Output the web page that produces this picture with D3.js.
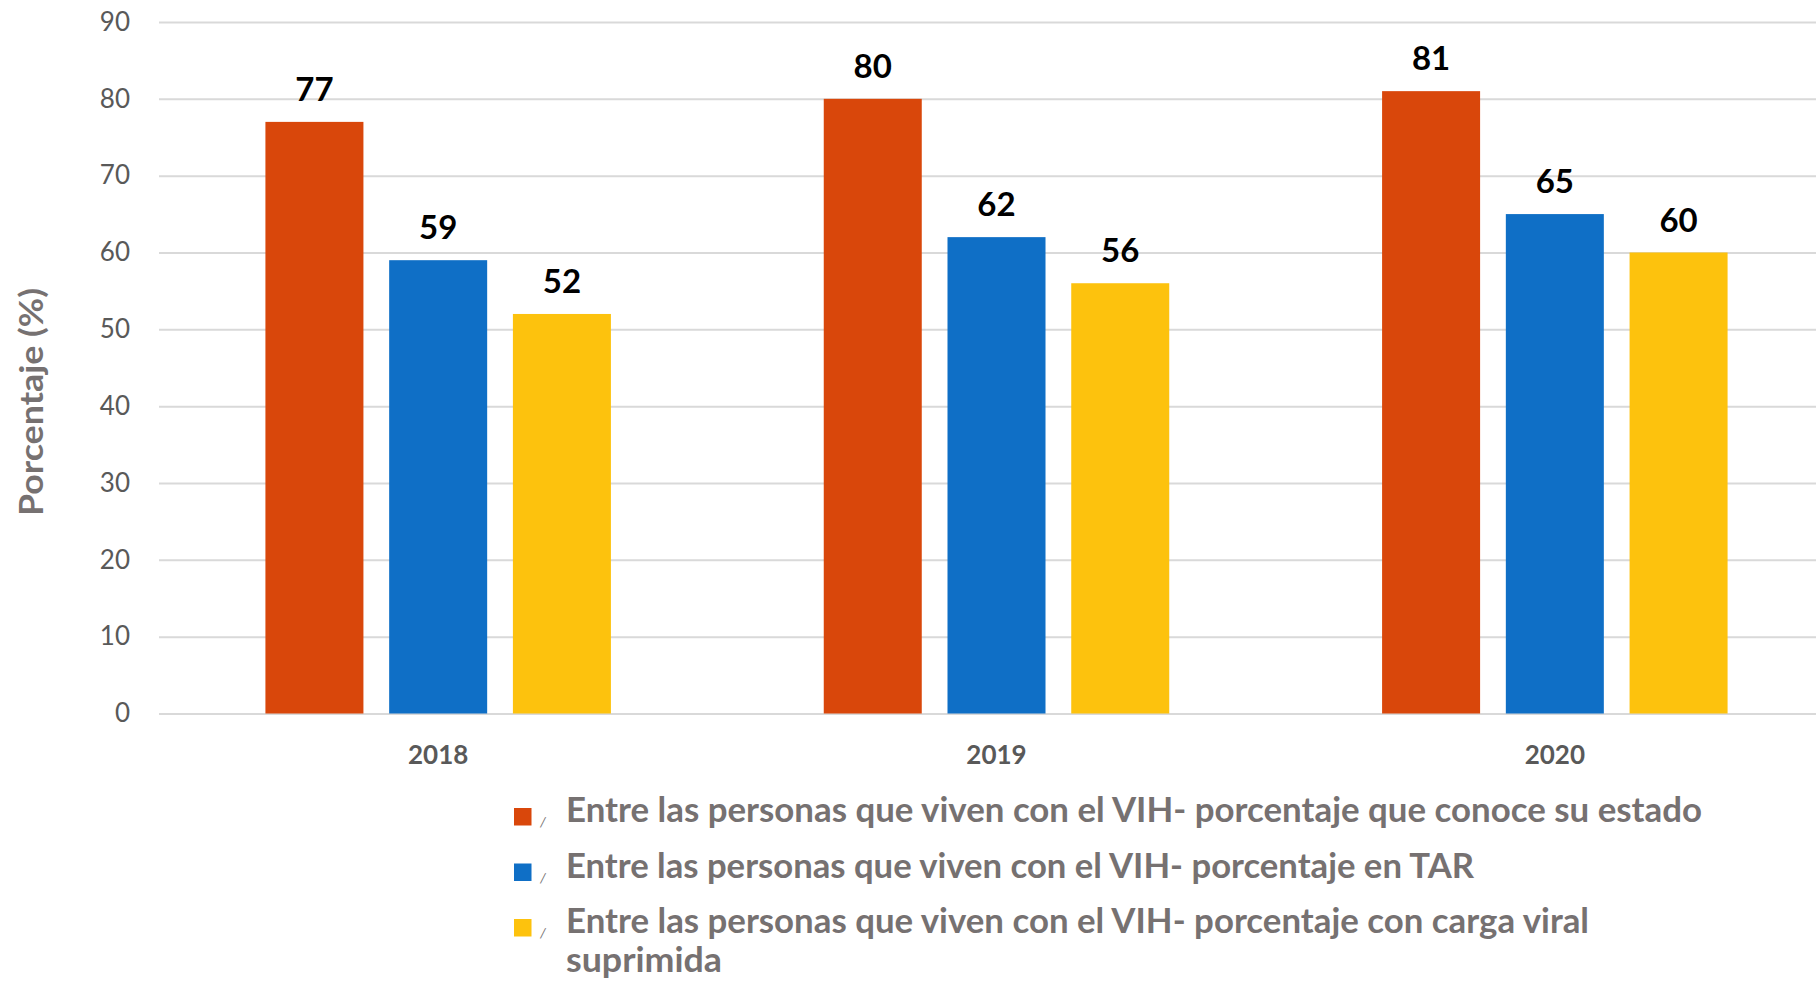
<!DOCTYPE html>
<html>
<head>
<meta charset="utf-8">
<script src="https://cdn.jsdelivr.net/npm/d3@7"></script>
<style>
  body { margin: 0; background: #fff; }
  svg { display: block; font-family: Lato, "Open Sans", sans-serif; }
</style>
</head>
<body>
<svg id="chart" width="1816" height="983"></svg>
<script>
const years = ["2018", "2019", "2020"];
const conoceEstado = [77, 80, 81];
const enTar = [59, 62, 65];
const cargaSuprimida = [52, 56, 60];
const yTicks = [0, 10, 20, 30, 40, 50, 60, 70, 80, 90];
const seriesColors = ["#d9470b", "#0f6fc6", "#fdc20d"];
const legendLabels = [
    ["Entre las personas que viven con el VIH- porcentaje que conoce su estado"],
    ["Entre las personas que viven con el VIH- porcentaje en TAR"],
    ["Entre las personas que viven con el VIH- porcentaje con carga viral", "suprimida"]
];
const yTitle = "Porcentaje (%)";

const allSeries = [conoceEstado, enTar, cargaSuprimida];

const svg = d3.select("#chart");

const x0 = d3.scaleBand()
    .domain(years)
    .range([159, 1834]);

const x1 = d3.scaleBand()
    .domain(d3.range(allSeries.length))
    .range([0, x0.bandwidth()])
    .paddingInner(0.208)
    .paddingOuter(0.86);

const y = d3.scaleLinear()
    .domain([0, 90])
    .range([713.5, 22]);

// gridlines + tick labels
const yAxis = svg.append("g")
    .attr("transform", "translate(159,0)")
    .call(d3.axisLeft(y)
        .tickValues(yTicks)
        .tickSizeInner(-(1834 - 159))
        .tickSizeOuter(0)
        .tickPadding(29));

yAxis.select(".domain").remove();
yAxis.selectAll(".tick line")
    .attr("stroke", "#d9d9d9")
    .attr("stroke-width", 2);
yAxis.selectAll(".tick text")
    .attr("fill", "#595959")
    .style("font-size", "26px")
    .style("font-family", "Lato, 'Open Sans', sans-serif");

// bars
const groups = svg.append("g")
    .selectAll("g")
    .data(years)
    .enter()
    .append("g")
    .attr("transform", d => `translate(${x0(d)},0)`);

groups.selectAll("rect")
    .data((d, i) => allSeries.map((s, k) => ({ k: k, v: s[i] })))
    .enter()
    .append("rect")
    .attr("x", d => x1(d.k))
    .attr("width", x1.bandwidth())
    .attr("y", d => y(d.v))
    .attr("height", d => y(0) - y(d.v))
    .attr("fill", d => seriesColors[d.k]);

groups.selectAll("text.val")
    .data((d, i) => allSeries.map((s, k) => ({ k: k, v: s[i] })))
    .enter()
    .append("text")
    .attr("class", "val")
    .attr("x", d => x1(d.k) + x1.bandwidth() / 2)
    .attr("y", d => y(d.v) - 21)
    .attr("text-anchor", "middle")
    .attr("fill", "#000")
    .style("font-size", "33px")
    .style("font-weight", "bold")
    .text(d => d.v);

// category labels
svg.append("g")
    .selectAll("text")
    .data(years)
    .enter()
    .append("text")
    .attr("x", d => x0(d) + x0.bandwidth() / 2)
    .attr("y", 764)
    .attr("text-anchor", "middle")
    .attr("fill", "#595959")
    .style("font-size", "26px")
    .style("font-weight", "bold")
    .text(d => d);

// y axis title
svg.append("text")
    .attr("transform", "translate(43,402) rotate(-90)")
    .attr("text-anchor", "middle")
    .attr("fill", "#767171")
    .attr("textLength", 228)
    .attr("lengthAdjust", "spacingAndGlyphs")
    .style("font-size", "33px")
    .style("font-weight", "bold")
    .text(yTitle);

// legend
const legendTop = 817;
const legendStep = 55.5;
const lineWidths = [[1136], [908], [1023, 156]];

const legend = svg.append("g")
    .selectAll("g")
    .data(legendLabels)
    .enter()
    .append("g")
    .attr("transform", (d, i) => `translate(514,${legendTop + i * legendStep})`);

legend.append("rect")
    .attr("x", 0)
    .attr("y", -9)
    .attr("width", 17.5)
    .attr("height", 17.5)
    .attr("fill", (d, i) => seriesColors[i]);

legend.append("text")
    .attr("x", 26)
    .attr("y", 10)
    .attr("fill", "#767171")
    .style("font-size", "14px")
    .style("font-style", "italic")
    .text("/");

legend.each(function (lines, i) {
    const g = d3.select(this);
    lines.forEach((line, j) => {
        g.append("text")
            .attr("x", 52)
            .attr("y", 5 + j * 38.5)
            .attr("fill", "#767171")
            .attr("textLength", lineWidths[i][j])
            .attr("lengthAdjust", "spacingAndGlyphs")
            .style("font-size", "34px")
            .style("font-weight", "bold")
            .text(line);
    });
});
</script>
</body>
</html>
